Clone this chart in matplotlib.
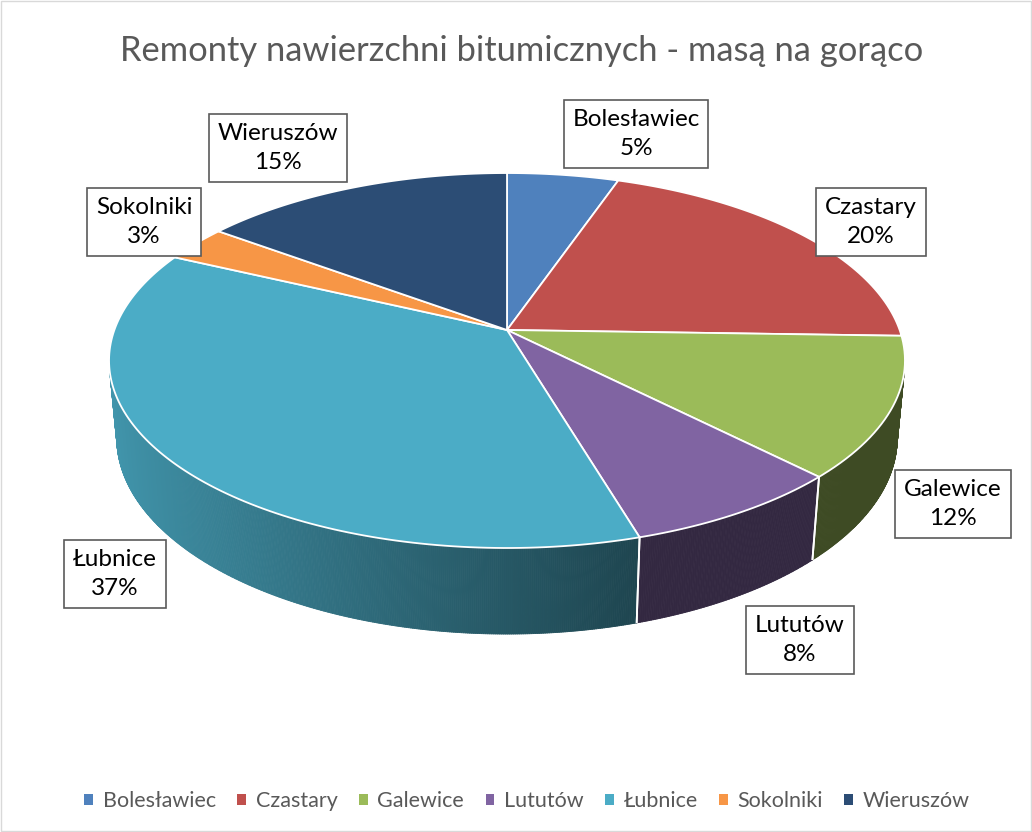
import numpy as np
import matplotlib
matplotlib.use("Agg")
import matplotlib.pyplot as plt
import matplotlib.patches as mpatches
from matplotlib.transforms import Transform, Affine2D
from matplotlib.path import Path
from matplotlib.collections import PolyCollection
from matplotlib.colors import to_rgb

# ---------------- data ----------------
categories = ['Bolesławiec', 'Czastary', 'Galewice', 'Lututów', 'Łubnice', 'Sokolniki', 'Wieruszów']
values = [5.3, 20.2, 12.1, 7.8, 36.6, 3.1, 14.9]
colors = ['#4F81BD', '#C0504D', '#9BBB59', '#8064A2', '#4BACC6', '#F79646', '#2C4D75']
title = 'Remonty nawierzchni bitumicznych - masą na gorąco'

# ---------------- layout / style ----------------
W, H = 1032, 832
label_pos = [(636, 134), (871, 222), (953, 504), (800, 640), (115, 574), (144, 222), (278, 148)]
FONT = ['Lato', 'DejaVu Sans']

# perspective camera (pixel space)
CX, CY = 507, 330
K, D, ALPHA, THICK = 2136.0, 5.44, np.radians(27.7), 0.224


def project(x, y, z):
    depth = D + y * np.cos(ALPHA) - z * np.sin(ALPHA)
    u = CX + K * x / depth
    v = CY - K * (y * np.sin(ALPHA) + z * np.cos(ALPHA)) / depth
    return u, v


class Persp(Transform):
    input_dims = 2
    output_dims = 2
    is_separable = False
    has_inverse = False

    def transform_non_affine(self, values):
        values = np.asarray(values, float)
        u, v = project(values[:, 0], values[:, 1], 0.0)
        return np.column_stack([u, v])

    def transform_path_non_affine(self, path):
        S = 2000.0
        polys = path.to_polygons(transform=Affine2D().scale(S), closed_only=False)
        verts, codes = [], []
        for p in polys:
            p = np.asarray(p) / S
            c = np.full(len(p), Path.LINETO, dtype=np.uint8)
            c[0] = Path.MOVETO
            verts.append(p)
            codes.append(c)
        verts = np.concatenate(verts)
        codes = np.concatenate(codes)
        return Path(self.transform_non_affine(verts), codes)


fig = plt.figure(figsize=(W / 100, H / 100), dpi=100)
ax = fig.add_axes([0, 0, 1, 1])

wedges, _ = ax.pie(values, colors=colors, startangle=90, counterclock=False, radius=1,
                   wedgeprops=dict(edgecolor='white', linewidth=1.3))
ax.set_aspect('auto')
ax.set_xlim(0, W)
ax.set_ylim(H, 0)
ax.axis('off')

persp = Persp()
for w in wedges:
    w.set_transform(persp + ax.transData)
    w.set_zorder(5)

# ---------------- side walls ----------------
y_vis = -1.0 / (D * np.cos(ALPHA))


def shade(x):
    return 0.40 + 0.48 * np.clip((0.29 - x) / 1.29, 0, 1)


polys, fcols = [], []
for w, c in zip(wedges, colors):
    base = np.array(to_rgb(c))
    phis = np.radians(np.arange(w.theta1, w.theta2 + 0.25, 0.25))
    phis[-1] = np.radians(w.theta2)
    for a, b in zip(phis[:-1], phis[1:]):
        m = 0.5 * (a + b)
        if np.sin(m) >= y_vis:
            continue
        xs = np.cos([a, b])
        ys = np.sin([a, b])
        ut, vt = project(xs, ys, 0.0)
        ub, vb = project(xs, ys, -THICK)
        polys.append([(ut[0], vt[0]), (ut[1], vt[1]), (ub[1], vb[1]), (ub[0], vb[0])])
        fcols.append(tuple(base * shade(np.cos(m))))
pc = PolyCollection(polys, facecolors=fcols, edgecolors=fcols, linewidths=0.6, zorder=2)
ax.add_collection(pc)

# white separators on the visible wall
for w in wedges:
    for th in (w.theta1, w.theta2):
        p = np.radians(th)
        if np.sin(p) < y_vis:
            ut, vt = project(np.cos(p), np.sin(p), 0.0)
            ub, vb = project(np.cos(p), np.sin(p), -THICK)
            ax.plot([ut, ub], [vt, vb], color='white', lw=1.3, zorder=3, solid_capstyle='butt')

# ---------------- labels ----------------
total = sum(values)
for name, val, (lx, ly) in zip(categories, values, label_pos):
    pct = int(round(val / total * 100))
    ax.text(lx, ly, f'{name}\n{pct}%', ha='center', va='center', fontsize=17.5,
            family=FONT, color='black', linespacing=1.5, zorder=10,
            bbox=dict(boxstyle='square,pad=0.36', fc='white', ec='#5A5A5A', lw=1.2))

# ---------------- title ----------------
fig.text(522 / W, 1 - 51 / H, title, ha='center', va='center', fontsize=24.8,
         family=FONT, color='#595959')

# ---------------- legend ----------------
handles = [mpatches.Patch(facecolor=c, edgecolor='none') for c in colors]
fig.legend(handles, categories, loc='center', bbox_to_anchor=(527 / W, 1 - 801 / H),
           ncol=len(categories), frameon=False, prop=dict(family=FONT, size=15.5),
           labelcolor='#595959', handlelength=0.4, handleheight=0.4,
           handletextpad=0.45, columnspacing=1.0)

# chart border
fig.patches.append(mpatches.Rectangle((1 / W, 1 / H), 1 - 2 / W, 1 - 2 / H, transform=fig.transFigure,
                                      fill=False, edgecolor='#D9D9D9', lw=1))

fig.savefig('out.png', dpi=100)
